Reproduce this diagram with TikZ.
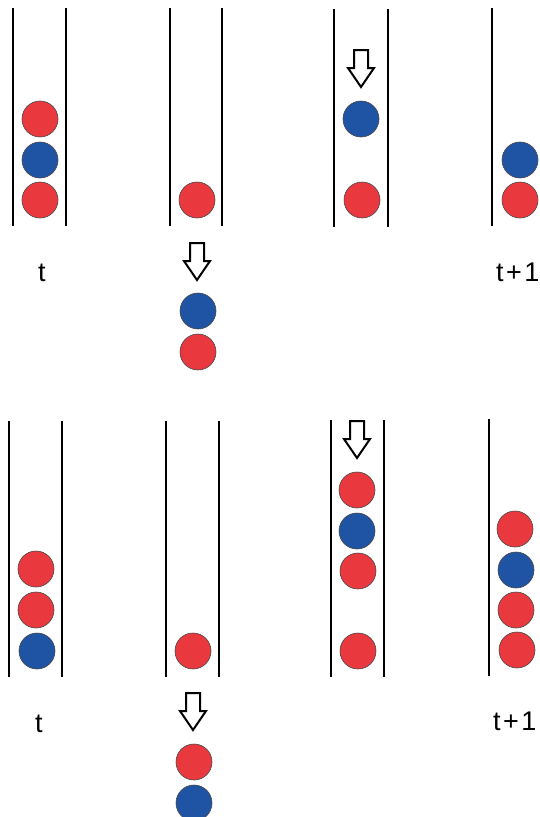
\documentclass[tikz,border=0pt]{standalone}
\usepackage{fontspec}
\setmainfont{Liberation Sans}
\definecolor{ballred}{RGB}{234,57,62}
\definecolor{ballblue}{RGB}{31,84,164}
\definecolor{rim}{RGB}{70,70,70}
\tikzset{
  wall/.style={line width=2.4pt, black},
  ball/.style={circle, draw=rim, line width=0.6pt, minimum size=36pt, inner sep=0pt},
  redball/.style={ball, fill=ballred},
  blueball/.style={ball, fill=ballblue},
  droparrow/.style={draw=black, line width=2pt, fill=white, line join=miter},
  lbl/.style={font=\fontsize{27}{30}\selectfont, inner sep=0pt},
  pics/drop/.style={code={
    \draw[droparrow] (-7,0) -- (7,0) -- (7,18) -- (13,18) -- (0,37)
      -- (-13,18) -- (-7,18) -- cycle;}}
}
\newcommand{\tnext}{t\kern2.5pt+\kern2.5pt1}
\begin{document}
\begin{tikzpicture}[x=1pt, y=-1pt]
\useasboundingbox (0,0) rectangle (539,817);
\clip (0,0) rectangle (539,817);

% ---------- upper sequence ----------
% tube walls
\draw[wall] (13,8) -- (13,226);   \draw[wall] (66,8) -- (66,226);
\draw[wall] (170,8) -- (170,226); \draw[wall] (222,8) -- (222,226);
\draw[wall] (334,9) -- (334,227); \draw[wall] (388,9) -- (388,227);
\draw[wall] (492,8) -- (492,226);

% state t
\node[redball]  (a1) at (40,119) {};
\node[blueball] (a2) at (40,160) {};
\node[redball]  (a3) at (40,200) {};
\node[lbl, anchor=base] (ta) at (42,281) {t};

% bottom ball stays, the rest leaves
\node[redball] (b1) at (197,200) {};
\pic at (197,243) {drop};
\node[blueball] (b2) at (198,311) {};
\node[redball]  (b3) at (198,352) {};

% new ball dropped in
\coordinate (c0) at (361,50);
\pic at (c0) {drop};
\node[blueball] (c1) at (361,119) {};
\node[redball]  (c2) at (362,200) {};

% state t+1
\node[blueball] (d1) at (520,160) {};
\node[redball]  (d2) at (520,200) {};
\node[lbl, anchor=base west] (tb) at (496,281) {\tnext};

% ---------- lower sequence ----------
\draw[wall] (9,421) -- (9,677);     \draw[wall] (62,421) -- (62,677);
\draw[wall] (166,421) -- (166,677); \draw[wall] (219,421) -- (219,677);
\draw[wall] (331,420) -- (331,677); \draw[wall] (384,420) -- (384,677);
\draw[wall] (489,419) -- (489,676);

% state t
\node[redball]  (e1) at (36,569) {};
\node[redball]  (e2) at (36,610) {};
\node[blueball] (e3) at (37,651) {};
\node[lbl, anchor=base] (tc) at (39,732) {t};

% bottom ball stays, the rest leaves
\node[redball] (f1) at (193,651) {};
\pic at (193,693) {drop};
\node[redball]  (f2) at (194,762) {};
\node[blueball] (f3) at (194,803) {};

% new balls dropped in
\pic at (357,421) {drop};
\node[redball]  (g1) at (357,490) {};
\node[blueball] (g2) at (357,531) {};
\node[redball]  (g3) at (358,571) {};
\node[redball]  (g4) at (358,651) {};

% state t+1
\node[redball]  (h1) at (515,529) {};
\node[blueball] (h2) at (516,570) {};
\node[redball]  (h3) at (516,610) {};
\node[redball]  (h4) at (517,650) {};
\node[lbl, anchor=base west] (td) at (493,730) {\tnext};
\end{tikzpicture}
\end{document}
